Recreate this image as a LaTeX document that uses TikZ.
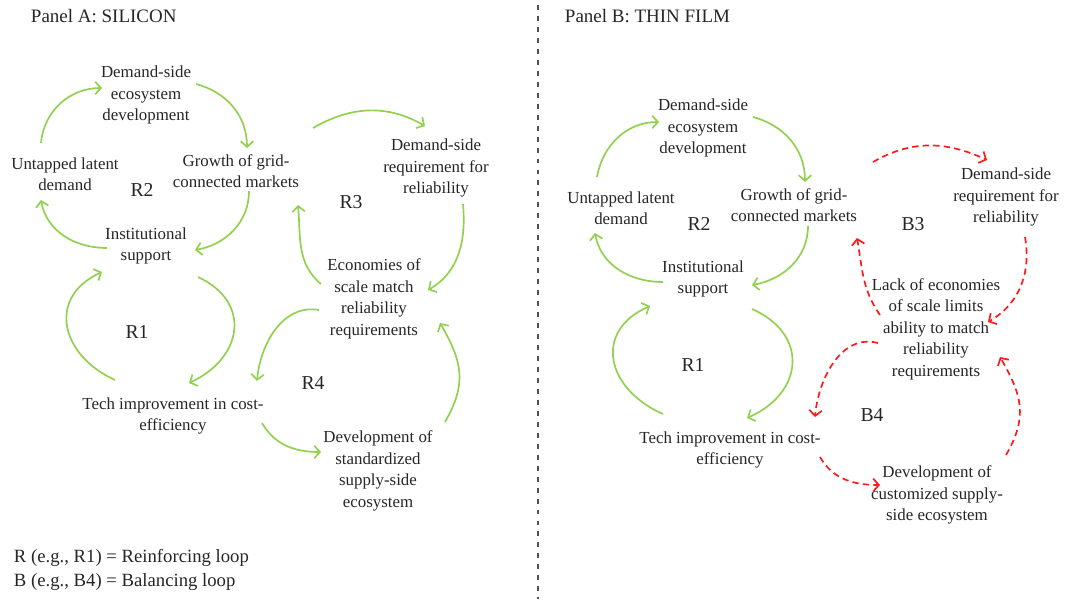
\documentclass[tikz,border=0pt]{standalone}
\usepackage{fontspec}
\setmainfont{Liberation Serif}
\usepackage{tikz}
\usetikzlibrary{arrows.meta}
\definecolor{reinf}{HTML}{92D050}
\definecolor{balan}{HTML}{FF1A1A}
\definecolor{txtcol}{HTML}{262626}

\tikzset{
  var/.style={align=center, text=txtcol, font=\fontsize{12}{15.3}\selectfont, inner sep=1pt},
  looplbl/.style={text=txtcol, font=\fontsize{14}{16}\selectfont},
  rlink/.style={draw=reinf, line width=1.2pt, -{Straight Barb[length=4pt,width=9pt,line width=1.2pt]}},
  blink/.style={draw=balan, line width=1.2pt, dash pattern=on 4.5pt off 3pt,
    -{Straight Barb[length=4pt,width=9pt,line width=1.2pt]}}
}

\begin{document}
\begin{tikzpicture}[x=0.025cm, y=0.025cm]
\useasboundingbox (0,0) rectangle (1072,-599);

% divider
\draw[txtcol!80, line width=1pt, dash pattern=on 3.5pt off 4.3pt] (538,-5) -- (538,-599);

% ---- Panel A
\node[anchor=west, text=txtcol, font=\fontsize{13.5}{15}\selectfont] (titleA) at (26,-16) {Panel A: SILICON};

\node[var] (demeco) at (146,-95) {Demand-side\\ecosystem\\development};
\node[var] (untap) at (65,-174) {Untapped latent\\demand};
\node[var] (growth) at (236,-171) {Growth of grid-\\connected markets};
\node[var] (inst) at (146,-246) {Institutional\\support};
\node[var] (tech) at (173,-416) {Tech improvement in cost-\\efficiency};
\node[var] (demreq) at (436,-168) {Demand-side\\requirement for\\reliability};
\node[var] (econ) at (374,-299) {Economies of\\scale match\\reliability\\requirements};
\node[var] (stdsup) at (378,-471) {Development of\\standardized\\supply-side\\ecosystem};

\node[looplbl] (rA2) at (142,-190) {R2};
\node[looplbl] (rA1) at (137,-332) {R1};
\node[looplbl] (rA3) at (351,-202) {R3};
\node[looplbl] (rA4) at (313,-383) {R4};

\coordinate (a1s) at (41,-143);  \coordinate (a1e) at (102,-88);
\coordinate (a2s) at (196,-84);  \coordinate (a2e) at (247,-148);
\coordinate (a3s) at (249,-191); \coordinate (a3e) at (195,-250);
\coordinate (a4s) at (107,-248); \coordinate (a4e) at (41,-200);
\coordinate (a5s) at (313,-128); \coordinate (a5e) at (425,-126);
\coordinate (a6s) at (463,-204); \coordinate (a6e) at (428,-290);
\coordinate (a7s) at (321,-284); \coordinate (a7e) at (298,-205);
\coordinate (a8s) at (198,-277); \coordinate (a8e) at (189,-383);
\coordinate (a9s) at (115,-380); \coordinate (a9e) at (102,-272);
\coordinate (a10s) at (319,-310); \coordinate (a10e) at (257,-381);
\coordinate (a11s) at (262,-423); \coordinate (a11e) at (321,-452);
\coordinate (a12s) at (445,-422); \coordinate (a12e) at (440,-323);

\draw[rlink] (a1s) to[out=85, in=180] (a1e);
\draw[rlink] (a2s) to[out=-15, in=90] (a2e);
\draw[rlink] (a3s) to[out=-90, in=10] (a3e);
\draw[rlink] (a4s) to[out=180, in=-80] (a4e);
\draw[rlink] (a5s) to[out=30, in=150] (a5e);
\draw[rlink] (a6s) to[out=-85, in=30] (a6e);
\draw[rlink] (a7s) to[out=140, in=-85] (a7e);
\draw[rlink] (a8s) .. controls (252,-302) and (243,-358) .. (a8e);
\draw[rlink] (a9s) .. controls (60,-355) and (47,-297) .. (a9e);
\draw[rlink] (a10s) to[out=170, in=85] (a10e);
\draw[rlink] (a11s) to[out=-60, in=180] (a11e);
\draw[rlink] (a12s) to[out=60, in=-60, looseness=1.15] (a12e);

% legend
\node[anchor=west, text=txtcol, font=\fontsize{13.3}{15}\selectfont] (legR) at (9,-558) {R (e.g., R1) = Reinforcing loop};
\node[anchor=west, text=txtcol, font=\fontsize{13.3}{15}\selectfont] (legB) at (9,-582) {B (e.g., B4) = Balancing loop};

% ---- Panel B
\node[anchor=west, text=txtcol, font=\fontsize{13.5}{15}\selectfont] (titleB) at (560,-16) {Panel B: THIN FILM};

\node[var] (demecoB) at (703,-128) {Demand-side\\ecosystem\\development};
\node[var] (untapB) at (621,-208) {Untapped latent\\demand};
\node[var] (growthB) at (794,-205) {Growth of grid-\\connected markets};
\node[var] (instB) at (703,-279) {Institutional\\support};
\node[var] (techB) at (730,-450) {Tech improvement in cost-\\efficiency};
\node[var] (demreqB) at (1006,-197) {Demand-side\\requirement for\\reliability};
\node[var] (lackB) at (936,-329) {Lack of economies\\of scale limits\\ability to match\\reliability\\requirements};
\node[var] (custsup) at (937,-495) {Development of\\customized supply-\\side ecosystem};

\node[looplbl] (rB2) at (699,-224) {R2};
\node[looplbl] (rB1) at (693,-365) {R1};
\node[looplbl] (bB3) at (913,-224) {B3};
\node[looplbl] (bB4) at (872,-415) {B4};

\coordinate (b1s) at (597,-177);  \coordinate (b1e) at (659,-122);
\coordinate (b2s) at (753,-117);  \coordinate (b2e) at (805,-182);
\coordinate (b3s) at (808,-226);  \coordinate (b3e) at (752,-285);
\coordinate (b4s) at (663,-282);  \coordinate (b4e) at (595,-233);
\coordinate (b5s) at (873,-162);  \coordinate (b5e) at (987,-160);
\coordinate (b6s) at (1025,-237); \coordinate (b6e) at (988,-322);
\coordinate (b7s) at (880,-315);  \coordinate (b7e) at (857,-238);
\coordinate (b8s) at (752,-309);  \coordinate (b8e) at (747,-418);
\coordinate (b9s) at (663,-414);  \coordinate (b9e) at (650,-306);
\coordinate (b10s) at (878,-343); \coordinate (b10e) at (815,-417);
\coordinate (b11s) at (820,-457); \coordinate (b11e) at (880,-485);
\coordinate (b12s) at (1006,-455); \coordinate (b12e) at (1000,-357);

\draw[rlink] (b1s) to[out=80, in=180] (b1e);
\draw[rlink] (b2s) to[out=-15, in=90] (b2e);
\draw[rlink] (b3s) to[out=-90, in=10] (b3e);
\draw[rlink] (b4s) to[out=180, in=-80] (b4e);
\draw[blink] (b5s) to[out=30, in=155] (b5e);
\draw[blink] (b6s) to[out=-80, in=30] (b6e);
\draw[blink] (b7s) to[out=125, in=-80] (b7e);
\draw[rlink] (b8s) .. controls (809,-334) and (804,-393) .. (b8e);
\draw[rlink] (b9s) .. controls (606,-389) and (593,-331) .. (b9e);
\draw[blink] (b10s) to[out=165, in=85] (b10e);
\draw[blink] (b11s) to[out=-60, in=180] (b11e);
\draw[blink] (b12s) to[out=60, in=-60, looseness=1.15] (b12e);
\end{tikzpicture}
\end{document}
